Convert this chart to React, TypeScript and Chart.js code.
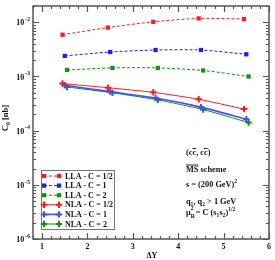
import React, { useEffect, useRef } from "react";
import { Chart, registerables } from "chart.js";
Chart.register(...registerables);

// ---- data ----
const xHalf = [1.45, 2.45, 3.45, 4.45, 5.45];
const xOne = [1.5, 2.5, 3.5, 4.5, 5.5];
const xTwo = [1.55, 2.55, 3.55, 4.55, 5.55];
const llaHalf = [5.9e-3, 8.0e-3, 1.02e-2, 1.18e-2, 1.15e-2];
const llaOne = [2.4e-3, 2.83e-3, 3.08e-3, 3.08e-3, 2.57e-3];
const llaTwo = [1.32e-3, 1.44e-3, 1.44e-3, 1.29e-3, 1.0e-3];
const nlaHalf = [7.4e-4, 6.2e-4, 5.1e-4, 3.8e-4, 2.5e-4];
const nlaOne = [6.9e-4, 5.25e-4, 4.0e-4, 2.72e-4, 1.63e-4];
const nlaTwo = [6.4e-4, 5.0e-4, 3.7e-4, 2.45e-4, 1.41e-4];
const seriesLabels = [
  "LLA - C = 1/2",
  "LLA - C = 1",
  "LLA - C = 2",
  "NLA - C = 1/2",
  "NLA - C = 1",
  "NLA - C = 2",
];
const xTickValues = [1, 2, 3, 4, 5, 6];
const yTickExponents = [-6, -5, -4, -3, -2];
const xMin = 0.8;
const xMax = 6;
const yMin = 1e-6;
const yMax = 0.02;

const FONT = '"Liberation Serif", "Times New Roman", serif';
const RED = "#ff1a1a";
const BLUE = "#1a1aff";
const GREEN = "#0a960a";

type Seg = { t: string; mode?: "sub" | "sup"; over?: boolean };

function drawRich(ctx: CanvasRenderingContext2D, segs: Seg[], x: number, y: number, size: number, align: "left" | "right" | "center" = "left") {
  const widths = segs.map((s) => {
    ctx.font = `bold ${s.mode ? size * 0.68 : size}px ${FONT}`;
    return ctx.measureText(s.t).width;
  });
  const total = widths.reduce((a, b) => a + b, 0);
  let cx = align === "left" ? x : align === "right" ? x - total : x - total / 2;
  ctx.textAlign = "left";
  segs.forEach((s, i) => {
    const fs = s.mode ? size * 0.68 : size;
    ctx.font = `bold ${fs}px ${FONT}`;
    const dy = s.mode === "sub" ? size * 0.3 : s.mode === "sup" ? -size * 0.45 : 0;
    ctx.fillText(s.t, cx, y + dy);
    if (s.over) {
      ctx.save();
      ctx.lineWidth = 0.9;
      ctx.beginPath();
      ctx.moveTo(cx, y - size * 0.78);
      ctx.lineTo(cx + widths[i], y - size * 0.78);
      ctx.stroke();
      ctx.restore();
    }
    cx += widths[i];
  });
}

const mk = (xs: number[], ys: number[]) => xs.map((x, i) => ({ x, y: ys[i] }));

function drawMarker(ctx: CanvasRenderingContext2D, style: string, x: number, y: number, r: number, bw: number) {
  ctx.beginPath();
  if (style === "rect") {
    const s = r * Math.SQRT1_2;
    ctx.rect(x - s, y - s, 2 * s, 2 * s);
    ctx.fill();
  } else {
    ctx.lineWidth = bw;
    ctx.moveTo(x - r, y);
    ctx.lineTo(x + r, y);
    ctx.moveTo(x, y - r);
    ctx.lineTo(x, y + r);
    ctx.stroke();
  }
}

const decorPlugin = {
  id: "decor",
  afterDatasetsDraw(chart: any) {
    const ctx: CanvasRenderingContext2D = chart.ctx;
    const { left, right, top, bottom } = chart.chartArea;
    const xs = chart.scales.x;
    const ys = chart.scales.y;
    ctx.save();
    ctx.strokeStyle = "#555";
    ctx.lineWidth = 1.2;
    // ticks
    ctx.beginPath();
    for (let v = xMin; v <= xMax + 1e-6; v += 0.2) {
      const px = Math.round(xs.getPixelForValue(v)) + 0.5;
      const major = Math.abs(v - Math.round(v)) < 1e-6;
      const len = major ? 6 : 3;
      ctx.moveTo(px, bottom);
      ctx.lineTo(px, bottom - len);
      ctx.moveTo(px, top);
      ctx.lineTo(px, top + len);
    }
    for (let e = -6; e <= -2; e++) {
      for (let k = 1; k <= 9; k++) {
        const v = k * Math.pow(10, e);
        if (v > yMax) continue;
        const py = Math.round(ys.getPixelForValue(v)) + 0.5;
        const len = k === 1 ? 6 : 3;
        ctx.moveTo(left, py);
        ctx.lineTo(left + len, py);
        ctx.moveTo(right, py);
        ctx.lineTo(right - len, py);
      }
    }
    ctx.stroke();
    // frame
    ctx.lineWidth = 1.5;
    ctx.strokeRect(left, top, right - left, bottom - top);

    // y tick labels
    ctx.fillStyle = "#111";
    ctx.strokeStyle = "#111";
    ctx.textBaseline = "middle";
    yTickExponents.forEach((e) => {
      const py = ys.getPixelForValue(Math.pow(10, e));
      drawRich(ctx, [{ t: "10" }, { t: String(e).replace("-", "\u2212"), mode: "sup" }], left - 3, py + 1, 8, "right");
    });

    // y title
    ctx.save();
    ctx.translate(6, 118);
    ctx.rotate(-Math.PI / 2);
    drawRich(ctx, [{ t: "C" }, { t: "0", mode: "sub" }, { t: " [nb]" }], 0, 0, 8.5, "center");
    ctx.restore();

    // x title
    drawRich(ctx, [{ t: "\u0394Y" }], 152, 256, 8, "center");

    // annotations
    ctx.textBaseline = "alphabetic";
    const ax = 186;
    const fs = 8.3;
    drawRich(ctx, [{ t: "(c" }, { t: "c", over: true }, { t: ", c" }, { t: "c", over: true }, { t: ")" }], ax, 155, fs);
    drawRich(ctx, [{ t: "MS", over: true }, { t: " scheme" }], ax, 171.5, fs);
    drawRich(ctx, [{ t: "s = (200 GeV)" }, { t: "2", mode: "sup" }], ax, 187, fs);
    drawRich(ctx, [{ t: "q" }, { t: "1", mode: "sub" }, { t: ", q" }, { t: "2", mode: "sub" }, { t: " > 1 GeV" }], ax, 204, fs);
    ctx.font = `bold ${fs}px ${FONT}`;
    const muW = ctx.measureText("\u03bc").width;
    drawRich(ctx, [{ t: "\u03bc" }], ax, 215, fs);
    drawRich(ctx, [{ t: "2", mode: "sup" }], ax + muW, 214, fs);
    drawRich(ctx, [{ t: "R", mode: "sub" }], ax + muW, 216, fs);
    drawRich(ctx, [{ t: "= C (s" }, { t: "1", mode: "sub" }, { t: "s" }, { t: "2", mode: "sub" }, { t: ")" }, { t: "1/2", mode: "sup" }], ax + muW + 5, 215, fs);

    // legend
    const lx = 41, ly = 170, lw = 73, lh = 59;
    ctx.fillStyle = "#fff";
    ctx.fillRect(lx, ly, lw, lh);
    ctx.strokeStyle = "#777";
    ctx.lineWidth = 1;
    ctx.strokeRect(lx + 0.5, ly + 0.5, lw, lh);
    chart.data.datasets.forEach((ds: any, i: number) => {
      const ry = ly + 6 + i * 9.6;
      const x1 = lx + 3, x2 = lx + 18;
      ctx.save();
      ctx.strokeStyle = ds.borderColor;
      ctx.lineWidth = ds.borderWidth;
      ctx.setLineDash(ds.borderDash || []);
      ctx.beginPath();
      ctx.moveTo(x1, ry);
      ctx.lineTo(x2, ry);
      ctx.stroke();
      ctx.setLineDash([]);
      ctx.fillStyle = ds.pointBackgroundColor;
      ctx.strokeStyle = ds.pointBorderColor;
      drawMarker(ctx, ds.pointStyle, x1, ry, ds.pointRadius, ds.pointBorderWidth);
      drawMarker(ctx, ds.pointStyle, x2, ry, ds.pointRadius, ds.pointBorderWidth);
      ctx.restore();
      ctx.fillStyle = "#111";
      ctx.textBaseline = "middle";
      ctx.font = `bold 8px ${FONT}`;
      ctx.textAlign = "left";
      ctx.fillText(seriesLabels[i], lx + 24, ry + 0.5);
    });
    ctx.restore();
  },
};

function lla(label: string, xs: number[], ys: number[], color: string) {
  return {
    label,
    data: mk(xs, ys),
    borderColor: color,
    backgroundColor: color,
    borderWidth: 1,
    borderDash: [3, 2],
    pointStyle: "rect",
    pointRadius: 3,
    pointBorderWidth: 0,
    pointBackgroundColor: color,
    pointBorderColor: color,
    tension: 0.25,
  };
}
function nla(label: string, xs: number[], ys: number[], color: string, w = 1) {
  return {
    label,
    data: mk(xs, ys),
    borderColor: color,
    backgroundColor: color,
    borderWidth: w,
    pointStyle: "cross",
    pointRadius: 3.2,
    pointBorderWidth: 2,
    pointBackgroundColor: color,
    pointBorderColor: color,
    tension: 0.2,
  };
}

export default function App() {
  const ref = useRef<HTMLCanvasElement>(null);
  useEffect(() => {
    if (!ref.current) return;
    const chart = new Chart(ref.current, {
      type: "line",
      data: {
        datasets: [
          lla(seriesLabels[0], xHalf, llaHalf, RED),
          lla(seriesLabels[1], xOne, llaOne, BLUE),
          lla(seriesLabels[2], xTwo, llaTwo, GREEN),
          nla(seriesLabels[3], xHalf, nlaHalf, RED),
          nla(seriesLabels[4], xOne, nlaOne, "#4a4aff", 1.6),
          nla(seriesLabels[5], xTwo, nlaTwo, GREEN),
        ] as any,
      },
      options: {
        animation: false,
        responsive: false,
        maintainAspectRatio: false,
        layout: { padding: { top: 1, right: 5, left: 0, bottom: 0 } },
        plugins: { legend: { display: false }, tooltip: { enabled: false } },
        scales: {
          x: {
            type: "linear",
            min: xMin,
            max: xMax,
            grid: { display: false, drawTicks: false },
            border: { display: false },
            afterBuildTicks: (s: any) => {
              s.ticks = xTickValues.map((v) => ({ value: v }));
            },
            afterFit: (s: any) => {
              s.height = 21;
            },
            ticks: {
              padding: 3,
              color: "#111",
              maxRotation: 0,
              autoSkip: false,
              font: { family: FONT, size: 8, weight: "bold" },
              callback: (v: any) => String(v),
            },
          },
          y: {
            type: "logarithmic",
            min: yMin,
            max: yMax,
            grid: { display: false, drawTicks: false },
            border: { display: false },
            ticks: { display: false },
            afterFit: (s: any) => {
              s.width = 33;
            },
          },
        },
      } as any,
      plugins: [decorPlugin],
    });
    return () => chart.destroy();
  }, []);
  return (
    <div style={{ position: "absolute", left: 0, top: 0, width: 275, height: 260, background: "#fff" }}>
      <canvas ref={ref} width={275} height={260} style={{ width: 275, height: 260 }} />
    </div>
  );
}
